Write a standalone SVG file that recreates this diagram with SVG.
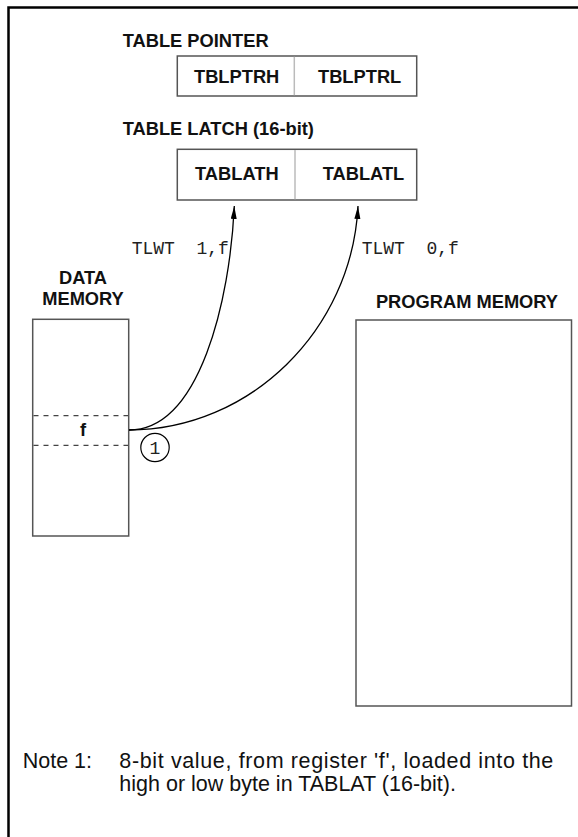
<svg xmlns="http://www.w3.org/2000/svg" width="578" height="837" viewBox="0 0 578 837">
<style>
.lbl{font-family:"Liberation Sans",Arial,sans-serif;font-weight:bold;font-size:18.3px;fill:#111}
.note{font-family:"Liberation Sans",Arial,sans-serif;font-size:21.5px;fill:#111}
.mono{font-family:"Liberation Mono","Courier New",monospace;font-size:18px;fill:#222;white-space:pre}
.box{fill:#fff;stroke:#555;stroke-width:1.5}
.div{stroke:#bbb;stroke-width:1.5}
.dash{stroke:#444;stroke-width:1.3;stroke-dasharray:5,5}
.conn{fill:none;stroke:#000;stroke-width:1.3}
</style>
<defs>
<marker id="ah" markerUnits="userSpaceOnUse" markerWidth="14" markerHeight="8" refX="13" refY="3" orient="auto">
<path d="M0,0 L13,3 L0,6 Z" fill="#000"/>
</marker>
</defs>
<rect width="578" height="837" fill="#fff"/>
<path d="M8.5,850 L8.5,7.5 L590,7.5" fill="none" stroke="#000" stroke-width="2.5"/>

<g id="table-pointer">
<text class="lbl" x="122.7" y="46.7">TABLE POINTER</text>
<rect class="box" x="177.3" y="56" width="239.4" height="40"/>
<line class="div" x1="294.3" y1="56.8" x2="294.3" y2="95.2"/>
<text class="lbl" x="194" y="83.3">TBLPTRH</text>
<text class="lbl" x="318" y="83.3">TBLPTRL</text>
</g>

<g id="table-latch">
<text class="lbl" x="122.7" y="135">TABLE LATCH (16-bit)</text>
<rect class="box" x="177.3" y="149.3" width="239.4" height="50.7"/>
<line class="div" x1="295" y1="150" x2="295" y2="199.3"/>
<text class="lbl" x="195" y="180">TABLATH</text>
<text class="lbl" x="322.7" y="180">TABLATL</text>
</g>

<g id="data-memory">
<text class="lbl" x="83" y="284" text-anchor="middle">DATA</text>
<text class="lbl" x="83" y="305" text-anchor="middle">MEMORY</text>
<rect class="box" x="32.7" y="319.3" width="96" height="216.7"/>
<line class="dash" x1="33.5" y1="415.7" x2="128" y2="415.7"/>
<line class="dash" x1="33.5" y1="445.3" x2="128" y2="445.3"/>
<text class="lbl" x="83" y="436" text-anchor="middle">f</text>
</g>

<g id="program-memory">
<text class="lbl" x="467" y="308.3" text-anchor="middle">PROGRAM MEMORY</text>
<rect class="box" x="356" y="320" width="215.5" height="386"/>
</g>

<g id="connectors">
<path class="conn" d="M129,430 C200,430 230,300 234.3,206" marker-end="url(#ah)"/>
<path class="conn" d="M129,430 C250,430 352,330 358,206" marker-end="url(#ah)"/>
</g>

<g id="labels">
<text class="mono" x="131.7" y="254">TLWT  1,f</text>
<text class="mono" x="361.7" y="254">TLWT  0,f</text>
</g>

<g id="note-marker">
<circle cx="155" cy="447.5" r="14.2" fill="#fff" stroke="#000" stroke-width="1.2"/>
<text class="mono" x="155" y="454" text-anchor="middle">1</text>
</g>

<g id="note">
<text class="note" x="22.7" y="768">Note 1:</text>
<text class="note" x="119.3" y="768" textLength="434" lengthAdjust="spacing">8-bit value, from register 'f', loaded into the</text>
<text class="note" x="119.3" y="791">high or low byte in TABLAT (16-bit).</text>
</g>
</svg>
